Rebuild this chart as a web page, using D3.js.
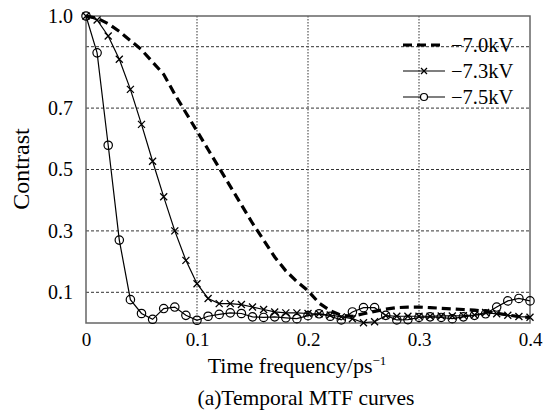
<!DOCTYPE html>
<html>
<head>
<meta charset="utf-8">
<script src="https://cdn.jsdelivr.net/npm/d3@7"></script>
<style>
  html, body { margin: 0; padding: 0; background: #fff; }
  svg { display: block; }
  svg text { font-family: "Liberation Serif", "Times New Roman", serif !important; fill: #000; }
</style>
</head>
<body>
<svg id="chart" width="553" height="417"></svg>
<script>
// ---- data ----
const freq = d3.range(0, 41).map(i => +(i * 0.01).toFixed(2));

const c70 = [1.0, 0.993, 0.975, 0.95, 0.92, 0.89, 0.85, 0.81, 0.745, 0.685,
  0.625, 0.565, 0.505, 0.445, 0.385, 0.325, 0.27, 0.215, 0.17, 0.135,
  0.105, 0.065, 0.04, 0.025, 0.022, 0.03, 0.038, 0.045, 0.05, 0.052,
  0.052, 0.05, 0.048, 0.046, 0.044, 0.042, 0.038, 0.032, 0.026, 0.021, 0.018];

const c73 = [1.0, 0.987, 0.935, 0.859, 0.761, 0.647, 0.527, 0.411, 0.30, 0.204,
  0.128, 0.08, 0.063, 0.063, 0.06, 0.052, 0.044, 0.036, 0.033, 0.033,
  0.031, 0.03, 0.026, 0.02, 0.014, 0.001, 0.004, 0.024, 0.022, 0.022,
  0.022, 0.022, 0.023, 0.023, 0.024, 0.026, 0.034, 0.03, 0.025, 0.021, 0.019];

const c75 = [1.0, 0.88, 0.579, 0.27, 0.076, 0.031, 0.012, 0.047, 0.052, 0.025,
  0.009, 0.022, 0.028, 0.033, 0.031, 0.02, 0.018, 0.02, 0.017, 0.014,
  0.024, 0.03, 0.022, 0.01, 0.036, 0.05, 0.05, 0.025, 0.01, 0.011,
  0.018, 0.02, 0.018, 0.014, 0.02, 0.025, 0.03, 0.052, 0.072, 0.08, 0.072];

const seriesNames = ["\u22127.0kV", "\u22127.3kV", "\u22127.5kV"];
const xTicks = [0, 0.1, 0.2, 0.3, 0.4];
const xTickLabels = ["0", "0.1", "0.2", "0.3", "0.4"];
const yTicks = [0.1, 0.3, 0.5, 0.7, 1.0];
const yTickLabels = ["0.1", "0.3", "0.5", "0.7", "1.0"];
const yGrid = [0.1, 0.3, 0.5, 0.7, 0.9];
const xGrid = [0.1, 0.2, 0.3];

// ---- layout ----
const svg = d3.select("#chart");
const L = 86, R = 530, T = 16, B = 323;
const x = d3.scaleLinear().domain([0, 0.4]).range([L, R]);
const y = d3.scaleLinear().domain([0, 1.0]).range([B, T]);
const SERIF = "'Liberation Serif', 'Times New Roman', serif";

// grid
svg.append("g").selectAll("line").data(yGrid).join("line")
  .attr("x1", L).attr("x2", R)
  .attr("y1", d => y(d)).attr("y2", d => y(d))
  .attr("stroke", "#333").attr("stroke-width", 1)
  .attr("stroke-dasharray", "3,2");
svg.append("g").selectAll("line").data(xGrid).join("line")
  .attr("y1", T).attr("y2", B)
  .attr("x1", d => x(d)).attr("x2", d => x(d))
  .attr("stroke", "#555").attr("stroke-width", 1.2)
  .attr("stroke-dasharray", "1.5,1.5");

// frame
svg.append("rect").attr("x", L).attr("y", T).attr("width", R - L).attr("height", B - T)
  .attr("fill", "none").attr("stroke", "#666").attr("stroke-width", 1.5);

// axes (labels only)
const xAxis = d3.axisBottom(x).tickValues(xTicks).tickSize(0)
  .tickFormat((d, i) => xTickLabels[i]).tickPadding(10);
const gx = svg.append("g").attr("transform", `translate(0,${B})`).call(xAxis)
  .attr("font-family", SERIF);
gx.select(".domain").remove();
gx.selectAll("text").attr("font-size", 19).style("font-family", SERIF);

const yAxis = d3.axisLeft(y).tickValues(yTicks).tickSize(0)
  .tickFormat((d, i) => yTickLabels[i]).tickPadding(13);
const gy = svg.append("g").attr("transform", `translate(${L},0)`).call(yAxis)
  .attr("font-family", SERIF);
gy.select(".domain").remove();
gy.selectAll("text").attr("font-size", 20).style("font-family", SERIF);

// axis titles
const xt = svg.append("text").attr("x", 297).attr("y", 373).attr("text-anchor", "middle")
  .attr("font-size", 22);
xt.append("tspan").text("Time frequency/ps");
xt.append("tspan").attr("dy", -8).attr("font-size", 13).text("\u22121");

svg.append("text").attr("transform", "translate(29,169) rotate(-90)")
  .attr("text-anchor", "middle").attr("font-size", 24).text("Contrast");

svg.append("text").attr("x", 306).attr("y", 405).attr("text-anchor", "middle")
  .attr("font-size", 21.5).text("(a)Temporal MTF curves");

// lines
const line = d3.line().x((d, i) => x(freq[i])).y(d => y(d));

svg.append("path").datum(c70).attr("d", line)
  .attr("fill", "none").attr("stroke", "#000").attr("stroke-width", 3.2)
  .attr("stroke-dasharray", "9,5");

svg.append("path").datum(c73).attr("d", line)
  .attr("fill", "none").attr("stroke", "#000").attr("stroke-width", 1.2);
svg.append("path").datum(c75).attr("d", line)
  .attr("fill", "none").attr("stroke", "#000").attr("stroke-width", 1.2);

// cross markers
const cs = 3.5;
svg.append("g").selectAll("path").data(c73).join("path")
  .attr("d", (d, i) => {
    const px = x(freq[i]), py = y(d);
    return `M${px - cs},${py - cs}L${px + cs},${py + cs}M${px - cs},${py + cs}L${px + cs},${py - cs}`;
  })
  .attr("stroke", "#000").attr("stroke-width", 1.3).attr("fill", "none");

// circle markers
svg.append("g").selectAll("circle").data(c75).join("circle")
  .attr("cx", (d, i) => x(freq[i])).attr("cy", d => y(d)).attr("r", 4.2)
  .attr("fill", "none").attr("stroke", "#000").attr("stroke-width", 1.2);

// legend
const lg = svg.append("g");
const rows = [45, 71, 97];
const lx1 = 403, lx2 = 445;
lg.append("line").attr("x1", lx1).attr("x2", lx2).attr("y1", rows[0]).attr("y2", rows[0])
  .attr("stroke", "#000").attr("stroke-width", 3.2).attr("stroke-dasharray", "9,5");
lg.append("line").attr("x1", lx1).attr("x2", lx2).attr("y1", rows[1]).attr("y2", rows[1])
  .attr("stroke", "#000").attr("stroke-width", 1.2);
lg.append("path")
  .attr("d", `M${(lx1+lx2)/2 - 3},${rows[1] - 3}L${(lx1+lx2)/2 + 3},${rows[1] + 3}M${(lx1+lx2)/2 - 3},${rows[1] + 3}L${(lx1+lx2)/2 + 3},${rows[1] - 3}`)
  .attr("stroke", "#000").attr("stroke-width", 1.3);
lg.append("line").attr("x1", lx1).attr("x2", lx2).attr("y1", rows[2]).attr("y2", rows[2])
  .attr("stroke", "#000").attr("stroke-width", 1.2);
lg.append("circle").attr("cx", (lx1+lx2)/2).attr("cy", rows[2]).attr("r", 3.5)
  .attr("fill", "#fff").attr("stroke", "#000").attr("stroke-width", 1.2);
lg.selectAll("text.lt").data(seriesNames).join("text").attr("class", "lt")
  .attr("x", 451).attr("y", (d, i) => rows[i] + 7).attr("font-size", 20.5)
  .style("font-family", SERIF).text(d => d);
</script>
</body>
</html>
